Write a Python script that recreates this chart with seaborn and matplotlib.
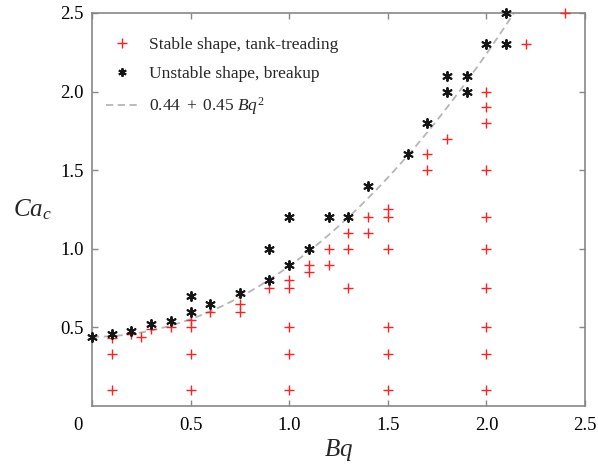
import numpy as np
import pandas as pd
import matplotlib
matplotlib.use("Agg")
import matplotlib.pyplot as plt
import seaborn as sns
from matplotlib.lines import Line2D
from matplotlib.transforms import ScaledTranslation

# ---- data ----
stable_bq = [0.1, 0.1, 0.1, 0.2, 0.25, 0.3, 0.4, 0.5, 0.5, 0.5, 0.5, 0.6, 0.75, 0.75,
             0.9, 1.0, 1.0, 1.0, 1.0, 1.0, 1.1, 1.1, 1.2, 1.2, 1.3, 1.3, 1.3, 1.4, 1.4,
             1.5, 1.5, 1.5, 1.5, 1.5, 1.5, 1.7, 1.7, 1.8, 2.0, 2.0, 2.0, 2.0, 2.0, 2.0,
             2.0, 2.0, 2.0, 2.0, 2.2, 2.4]
stable_ca = [0.43, 0.33, 0.1, 0.46, 0.44, 0.49, 0.5, 0.55, 0.5, 0.33, 0.1, 0.6, 0.65, 0.6,
             0.75, 0.8, 0.75, 0.5, 0.33, 0.1, 0.9, 0.85, 1.0, 0.9, 1.1, 1.0, 0.75, 1.2, 1.1,
             1.25, 1.2, 1.0, 0.5, 0.33, 0.1, 1.6, 1.5, 1.7, 2.0, 1.9, 1.8, 1.5, 1.2, 1.0,
             0.75, 0.5, 0.33, 0.1, 2.3, 2.5]
unstable_bq = [0.0, 0.1, 0.2, 0.3, 0.4, 0.5, 0.5, 0.6, 0.75, 0.9, 0.9, 1.0, 1.0, 1.1, 1.2,
               1.3, 1.4, 1.6, 1.7, 1.8, 1.8, 1.9, 1.9, 2.0, 2.1, 2.1]
unstable_ca = [0.44, 0.46, 0.48, 0.52, 0.54, 0.7, 0.6, 0.65, 0.72, 1.0, 0.8, 1.2, 0.9, 1.0, 1.2,
               1.2, 1.4, 1.6, 1.8, 2.1, 2.0, 2.1, 2.0, 2.3, 2.3, 2.5]
fit_a, fit_b = 0.44, 0.45
xticks = [0, 0.5, 1.0, 1.5, 2.0, 2.5]
xtick_labels = ["0", "0.5", "1.0", "1.5", "2.0", "2.5"]
yticks = [0.5, 1.0, 1.5, 2.0, 2.5]
ytick_labels = ["0.5", "1.0", "1.5", "2.0", "2.5"]
legend_labels = ["Stable shape, tank-treading", "Unstable shape, breakup",
                 r"$0.44\ +\ 0.45\ Bq^2$"]

sns.set_style("ticks")
plt.rcParams["font.family"] = ["Liberation Serif", "DejaVu Serif"]
plt.rcParams["mathtext.fontset"] = "custom"
plt.rcParams["mathtext.rm"] = "Liberation Serif"
plt.rcParams["mathtext.it"] = "Liberation Serif:italic"

fig = plt.figure(figsize=(5.98, 4.68), dpi=100)
ax = fig.add_axes([92 / 598, 62 / 468, 493 / 598, 393 / 468])

stable = pd.DataFrame({"Bq": stable_bq, "Ca": stable_ca})
unstable = pd.DataFrame({"Bq": unstable_bq, "Ca": unstable_ca})
xfit = np.linspace(0, 2.5, 300)
fit = pd.DataFrame({"Bq": xfit, "Ca": fit_a + fit_b * xfit ** 2})

line_col = "#b5b5b5"
star = (6, 2, 0)
sns.lineplot(data=fit, x="Bq", y="Ca", ax=ax, color=line_col, lw=1.3,
             linestyle=(0, (4, 2.5)), zorder=1)
sns.scatterplot(data=stable, x="Bq", y="Ca", ax=ax, marker="+", color="#ff2020",
                s=55, linewidth=1.0, zorder=3, clip_on=False)
sns.scatterplot(data=unstable, x="Bq", y="Ca", ax=ax, marker=star, color="#151515",
                s=42, linewidth=1.4, zorder=4, clip_on=False)

ax.set_xlim(0, 2.5)
ax.set_ylim(0, 2.5)
ax.set_xticks(xticks)
ax.set_xticklabels(xtick_labels)
ax.set_yticks(yticks)
ax.set_yticklabels(ytick_labels)
ax.tick_params(direction="in", top=True, right=True, length=4, width=1,
               color="#888888", labelsize=13.5, labelcolor="black")
ax.tick_params(axis="y", pad=6)
ax.tick_params(axis="x", pad=8)
for sp in ax.spines.values():
    sp.set_visible(True)
    sp.set_color("#888888")
    sp.set_linewidth(1.2)

# shift the "0" x tick label left
lab0 = ax.get_xticklabels()[0]
lab0.set_transform(lab0.get_transform() + ScaledTranslation(-14 / 100, 0, fig.dpi_scale_trans))

ax.set_xlabel(r"$Bq$", fontsize=18, labelpad=2)
ax.set_ylabel(r"$Ca_c$", fontsize=18, rotation=0, labelpad=20, va="center")

handles = [
    Line2D([], [], marker="+", color="#ff2020", linestyle="none", markersize=7, mew=1.0),
    Line2D([], [], marker=star, color="#151515", linestyle="none", markersize=6, mew=1.4),
    Line2D([], [], color=line_col, lw=1.3, linestyle=(0, (4, 2.5))),
]
ax.legend(handles, legend_labels, loc="upper left", frameon=False, fontsize=12.5,
          handlelength=1.9, handletextpad=0.6, labelspacing=0.75,
          bbox_to_anchor=(0.0, 0.975), borderaxespad=0.4)

fig.savefig("out.png", dpi=100)
